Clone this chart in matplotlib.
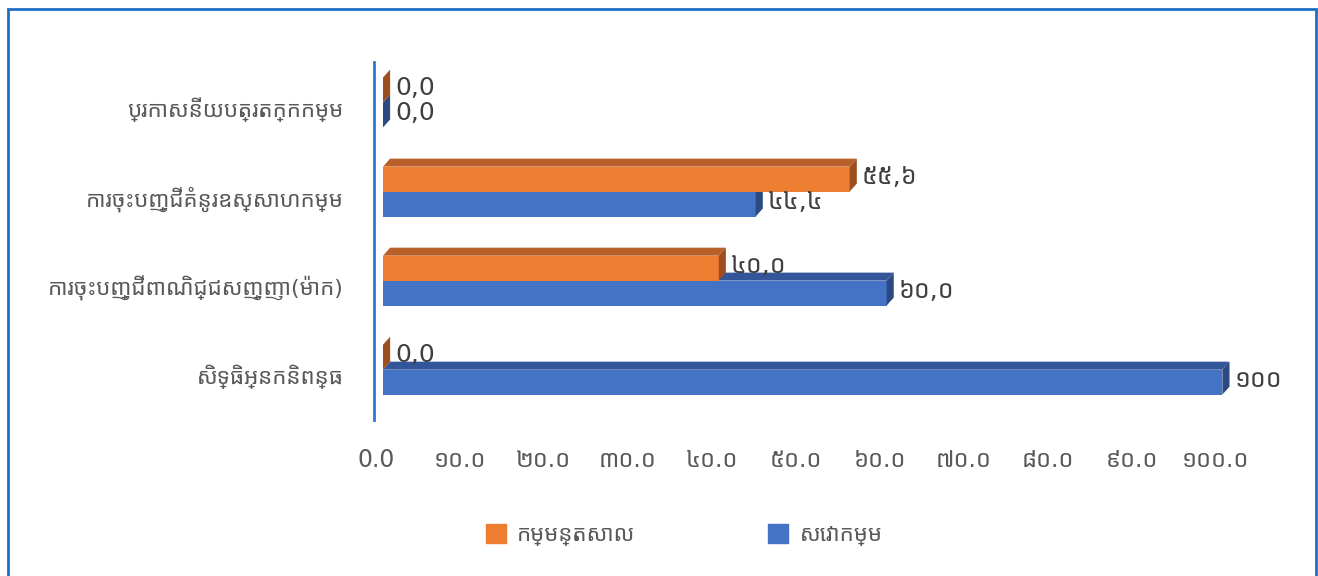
import numpy as np
import matplotlib
matplotlib.use('Agg')
import matplotlib.pyplot as plt
from matplotlib import font_manager
from matplotlib.ft2font import FT2Font
from matplotlib.patches import Polygon, Rectangle
from matplotlib.transforms import ScaledTranslation

# data
categories = ['សិទ្ធិអ្នកនិពន្ធ',
              'ការចុះបញ្ជីពាណិជ្ជសញ្ញា(ម៉ាក)',
              'ការចុះបញ្ជីគំនូរឧស្សាហកម្ម',
              'ប្រកាសនីយបត្រតក្កកម្ម']
series_names = ['កម្មន្តសាល', 'សេវាកម្ម']
industry = [0.0, 40.0, 55.6, 0.0]
services = [100.0, 60.0, 44.4, 0.0]
industry_labels = ['0,0', '៤០,០', '៥៥,៦', '0,0']
services_labels = ['១០០', '៦០,០', '៤៤,៤', '0,0']
tick_values = [0, 10, 20, 30, 40, 50, 60, 70, 80, 90, 100]
tick_labels = ['0.0', '១០.០', '២០.០', '៣០.០', '៤០.០', '៥០.០',
               '៦០.០', '៧០.០', '៨០.០', '៩០.០', '១០០.០']


def pick_khmer_font(prefs):
    have = {}
    for f in font_manager.fontManager.ttflist:
        if f.name in have:
            continue
        try:
            cmap = FT2Font(f.fname).get_charmap()
        except Exception:
            continue
        if 0x1780 in cmap and 0x17D2 in cmap:
            have[f.name] = f.fname
    for p in prefs:
        if p in have:
            return p
    return next(iter(have), None)


khmer = pick_khmer_font(['Noto Sans Khmer', 'Kantumruy Pro', 'Battambang', 'Hanuman', 'Content'])
plt.rcParams['font.family'] = ['DejaVu Sans'] + ([khmer] if khmer else [])

orange = '#ED7D31'
orange_top = '#B9602A'
orange_side = '#9C4E1E'
blue = '#4472C4'
blue_top = '#33569A'
blue_side = '#2B4A82'
grey = '#595959'

fig = plt.figure(figsize=(13.18, 5.76), dpi=100)
ax = fig.add_axes([374 / 1318, 1 - 420 / 576, (1240 - 374) / 1318, (420 - 62) / 576])

y = np.arange(len(categories))
h = 0.28
bars_o = ax.barh(y + h / 2, industry, height=h, color=orange, zorder=3)
bars_b = ax.barh(y - h / 2, services, height=h, color=blue, zorder=2)

ax.set_xlim(-1.07, 102.1)
ax.set_ylim(-0.565, 3.455)

# fake 3d depth
dx = 0.85
dy = 0.09
for bars, top, side in [(bars_b, blue_top, blue_side), (bars_o, orange_top, orange_side)]:
    for p in bars:
        x0, y0, w, hh = p.get_x(), p.get_y(), p.get_width(), p.get_height()
        y1 = y0 + hh
        ax.add_patch(Polygon([(x0, y1), (x0 + dx, y1 + dy), (x0 + w + dx, y1 + dy), (x0 + w, y1)],
                             closed=True, color=top, zorder=p.get_zorder(), lw=0))
        ax.add_patch(Polygon([(x0 + w, y0), (x0 + w + dx, y0 + dy), (x0 + w + dx, y1 + dy), (x0 + w, y1)],
                             closed=True, color=side, zorder=p.get_zorder(), lw=0))

for bars, labs in [(bars_o, industry_labels), (bars_b, services_labels)]:
    for p, lab in zip(bars, labs):
        ax.text(p.get_width() + dx + 0.6, p.get_y() + p.get_height() / 2 + 0.02, lab,
                va='center', ha='left', fontsize=18, color='#404040', zorder=5)

ax.set_yticks(y)
ax.set_yticklabels(categories, fontsize=16, color=grey)
ax.set_xticks(tick_values)
ax.set_xticklabels(tick_labels, fontsize=17, color=grey)
ax.tick_params(axis='y', length=0, pad=22)
ax.tick_params(axis='x', length=0, pad=20)
for lab in ax.get_xticklabels():
    lab.set_transform(lab.get_transform() + ScaledTranslation(-0.07, 0, fig.dpi_scale_trans))
for lab in ax.get_yticklabels():
    lab.set_transform(lab.get_transform() + ScaledTranslation(0, -0.05, fig.dpi_scale_trans))

for s in ['top', 'right', 'bottom']:
    ax.spines[s].set_visible(False)
ax.spines['left'].set_color('#2E75D6')
ax.spines['left'].set_linewidth(2)

handles = [Rectangle((0, 0), 1, 1, color=orange), Rectangle((0, 0), 1, 1, color=blue)]
fig.legend(handles, series_names, loc='center', bbox_to_anchor=(684 / 1318, 1 - 535 / 576),
           ncol=2, frameon=False, fontsize=16, handlelength=0.9, handleheight=0.9,
           columnspacing=6.0, handletextpad=0.5, labelcolor=grey)

# chart frame
fig.patches.append(Rectangle((8 / 1318, -0.05), (1316 - 8) / 1318, 1.05 - 9 / 576,
                             transform=fig.transFigure, fill=False, ec='#1F6FC8', lw=2))

fig.savefig('out.png', dpi=100)
